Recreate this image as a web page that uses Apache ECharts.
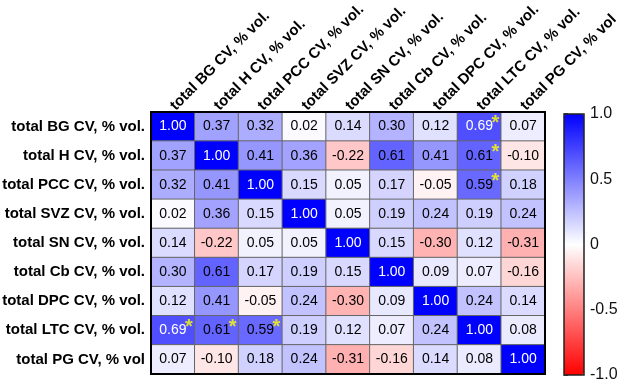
<!DOCTYPE html>
<html>
<head>
<meta charset="utf-8">
<script src="https://cdn.jsdelivr.net/npm/echarts@6/dist/echarts.min.js"></script>
<style>
  html, body { margin: 0; padding: 0; background: #fff; }
  #chart { width: 624px; height: 385px; }
</style>
</head>
<body>
<div id="chart"></div>
<script>
const regions = [
  'total BG CV, % vol.', 'total H CV, % vol.', 'total PCC CV, % vol.',
  'total SVZ CV, % vol.', 'total SN CV, % vol.', 'total Cb CV, % vol.',
  'total DPC CV, % vol.', 'total LTC CV, % vol.', 'total PG CV, % vol'
]

// correlation rows, top to bottom, same order as regions
const rowBG = [1.00, 0.37, 0.32, 0.02, 0.14, 0.30, 0.12, 0.69, 0.07]
const rowH = [0.37, 1.00, 0.41, 0.36, -0.22, 0.61, 0.41, 0.61, -0.10]
const rowPCC = [0.32, 0.41, 1.00, 0.15, 0.05, 0.17, -0.05, 0.59, 0.18]
const rowSVZ = [0.02, 0.36, 0.15, 1.00, 0.05, 0.19, 0.24, 0.19, 0.24]
const rowSN = [0.14, -0.22, 0.05, 0.05, 1.00, 0.15, -0.30, 0.12, -0.31]
const rowCb = [0.30, 0.61, 0.17, 0.19, 0.15, 1.00, 0.09, 0.07, -0.16]
const rowDPC = [0.12, 0.41, -0.05, 0.24, -0.30, 0.09, 1.00, 0.24, 0.14]
const rowLTC = [0.69, 0.61, 0.59, 0.19, 0.12, 0.07, 0.24, 1.00, 0.08]
const rowPG = [0.07, -0.10, 0.18, 0.24, -0.31, -0.16, 0.14, 0.08, 1.00]

// significant pairs [column, row]
const starred = [[7, 0], [7, 1], [7, 2], [0, 7], [1, 7], [2, 7]]

const colorTicks = ['-1.0', '-0.5', '0', '0.5', '1.0']

const rows = [rowBG, rowH, rowPCC, rowSVZ, rowSN, rowCb, rowDPC, rowLTC, rowPG]
const cells = []
rows.forEach((row, r) => {
  row.forEach((v, c) => cells.push([c, r, v]))
})

const font = 'Liberation Sans, Arial, sans-serif'

const chart = echarts.init(document.getElementById('chart'))
chart.setOption({
  animation: false,
  textStyle: { fontFamily: font },
  grid: [
    {
      left: 151, top: 112, width: 394, height: 262,
      outerBoundsMode: 'none',
      show: true, z: 10, backgroundColor: 'transparent',
      borderColor: '#000', borderWidth: 2
    },
    {
      left: 564, top: 114, width: 20, height: 261,
      outerBoundsMode: 'none',
      show: true, z: 10, backgroundColor: 'transparent',
      borderColor: '#222', borderWidth: 1.5
    }
  ],
  xAxis: [
    {
      type: 'category',
      data: regions,
      position: 'top',
      axisLine: { show: false },
      axisTick: { show: false },
      splitLine: { show: false },
      axisLabel: {
        rotate: -45, interval: 0, margin: 4,
        color: '#000', fontWeight: 'bold', fontSize: 15, fontFamily: font
      }
    },
    { type: 'value', gridIndex: 1, show: false, min: 0, max: 1 }
  ],
  yAxis: [
    {
      type: 'category',
      data: regions,
      inverse: true,
      axisLine: { show: false },
      axisTick: { show: false },
      splitLine: { show: false },
      axisLabel: {
        margin: 6, color: '#000', fontWeight: 'bold', fontSize: 15, fontFamily: font
      }
    },
    {
      type: 'value',
      gridIndex: 1,
      position: 'right',
      min: -1, max: 1, interval: 0.5,
      axisLine: { show: false },
      splitLine: { show: false },
      axisTick: { show: true, length: 4, lineStyle: { color: '#222', width: 1.5 } },
      axisLabel: {
        margin: 6, color: '#111', fontSize: 16, fontFamily: font,
        formatter: (v, i) => colorTicks[i]
      }
    }
  ],
  visualMap: {
    type: 'continuous',
    seriesIndex: 0,
    min: -1, max: 1,
    calculable: false,
    left: 564, top: 114,
    padding: 0,
    itemWidth: 20, itemHeight: 261,
    z: 4,
    inRange: { color: ['#ff0000', '#ffffff', '#0000ff'] },
    textStyle: { color: 'transparent' }
  },
  series: [
    {
      type: 'heatmap',
      data: cells,
      itemStyle: { borderColor: '#666', borderWidth: 1 },
      emphasis: { disabled: true },
      label: {
        show: true,
        formatter: (p) => {
          const v = p.value[2]
          const key = v >= 0.65 ? 'w' : 'k'
          return '{' + key + '|' + v.toFixed(2) + '}'
        },
        rich: {
          w: { color: '#fff', fontSize: 14, fontFamily: font },
          k: { color: '#000', fontSize: 14, fontFamily: font }
        }
      }
    },
    {
      type: 'scatter',
      data: starred,
      symbolSize: 2,
      itemStyle: { color: 'transparent' },
      silent: true,
      z: 5,
      labelLayout: { hideOverlap: false, dx: 16, dy: -3 },
      label: {
        show: true,
        position: 'inside',
        formatter: '*',
        color: '#ffff00',
        fontSize: 20,
        fontWeight: 'bold',
        fontFamily: font
      }
    }
  ]
})
</script>
</body>
</html>
